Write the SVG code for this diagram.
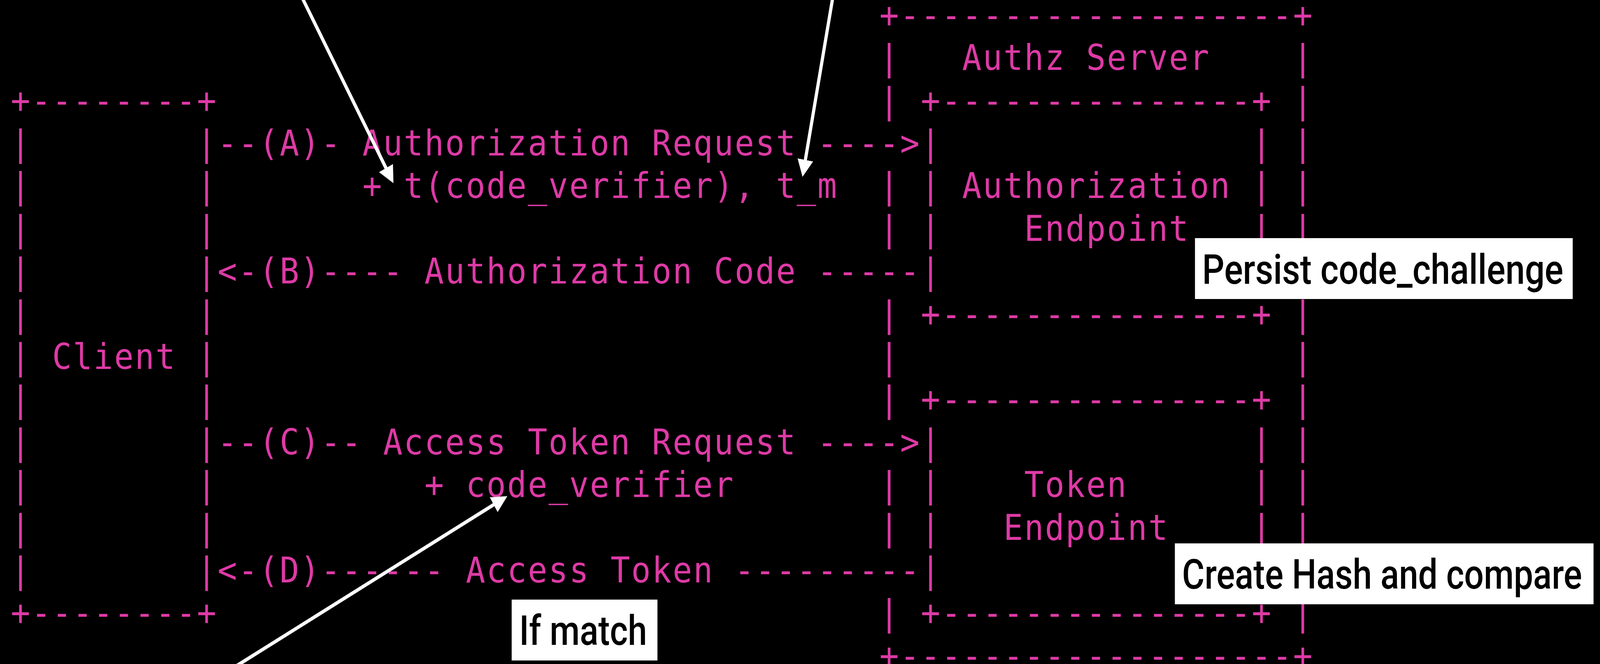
<svg xmlns="http://www.w3.org/2000/svg" width="4456" height="1701" viewBox="0 0 4456 1701" preserveAspectRatio="none" xml:space="preserve">
<style>
svg { width: 100vw; height: 100vh; background: #000000; }
.a { font-family: "DejaVu Sans Mono", "Liberation Mono", monospace; font-size: 90px; letter-spacing: 3.42px; fill: #DE3AA6; white-space: pre; }
.n { font-family: Roboto, "Liberation Sans", Arial, sans-serif; font-weight: 500; font-size: 106px; fill: #000000; }
.nb { fill: #ffffff; }
.ar { stroke: #ffffff; stroke-width: 9; fill: none; marker-end: url(#ah); }
</style>
<defs>
<marker id="ah" markerUnits="userSpaceOnUse" markerWidth="44" markerHeight="44" viewBox="0 0 44 44" refX="24" refY="22" orient="auto"><path d="M0,0 L44,22 L0,44 z" fill="#ffffff"/></marker>
</defs>
<rect x="0" y="0" width="4456" height="1701" fill="#000000"/>

<g id="client">
<text class="a" x="30" y="288.6">+--------+</text>
<text class="a" x="30" y="398.0">|        |</text>
<text class="a" x="30" y="507.4">|        |</text>
<text class="a" x="30" y="616.8">|        |</text>
<text class="a" x="30" y="726.2">|        |</text>
<text class="a" x="30" y="835.6">|        |</text>
<text class="a" x="30" y="945.0">| Client |</text>
<text class="a" x="30" y="1054.4">|        |</text>
<text class="a" x="30" y="1163.8">|        |</text>
<text class="a" x="30" y="1273.2">|        |</text>
<text class="a" x="30" y="1382.6">|        |</text>
<text class="a" x="30" y="1492.0">|        |</text>
<text class="a" x="30" y="1601.4">+--------+</text>
</g>

<g id="authz-server">
<text class="a" x="2449.2" y="69.8">+-------------------+</text>
<text class="a" x="2449.2" y="179.2">|   Authz Server    |</text>
<text class="a" x="2449.2" y="288.6">|</text>
<text class="a" x="2449.2" y="507.4">|</text>
<text class="a" x="2449.2" y="616.8">|</text>
<text class="a" x="2449.2" y="835.6">|</text>
<text class="a" x="2449.2" y="945.0">|</text>
<text class="a" x="2449.2" y="1054.4">|</text>
<text class="a" x="2449.2" y="1273.2">|</text>
<text class="a" x="2449.2" y="1382.6">|</text>
<text class="a" x="2449.2" y="1601.4">|</text>
<text class="a" x="3601.2" y="288.6">|</text>
<text class="a" x="3601.2" y="398.0">|</text>
<text class="a" x="3601.2" y="507.4">|</text>
<text class="a" x="3601.2" y="616.8">|</text>
<text class="a" x="3601.2" y="835.6">|</text>
<text class="a" x="3601.2" y="945.0">|</text>
<text class="a" x="3601.2" y="1054.4">|</text>
<text class="a" x="3601.2" y="1163.8">|</text>
<text class="a" x="3601.2" y="1273.2">|</text>
<text class="a" x="3601.2" y="1382.6">|</text>
<text class="a" x="3601.2" y="1601.4">|</text>
<text class="a" x="2449.2" y="1710.8">+-------------------+</text>
</g>

<g id="authorization-endpoint">
<text class="a" x="2564.4" y="288.6">+---------------+</text>
<text class="a" x="2564.4" y="398.0">|               |</text>
<text class="a" x="2564.4" y="507.4">| Authorization |</text>
<text class="a" x="2564.4" y="616.8">|    Endpoint   |</text>
<text class="a" x="2564.4" y="726.2">|</text>
<text class="a" x="2564.4" y="835.6">+---------------+</text>
</g>

<g id="token-endpoint">
<text class="a" x="2564.4" y="1054.4">+---------------+</text>
<text class="a" x="2564.4" y="1163.8">|               |</text>
<text class="a" x="2564.4" y="1273.2">|    Token      |</text>
<text class="a" x="2564.4" y="1382.6">|   Endpoint    |</text>
<text class="a" x="2564.4" y="1492.0">|</text>
<text class="a" x="2564.4" y="1601.4">+---------------+</text>
</g>

<g id="connectors">
<text class="a" x="606" y="398.0">--(A)- Authorization Request ----&gt;</text>
<text class="a" x="1009.2" y="507.4">+ t(code_verifier), t_m</text>
<text class="a" x="606" y="726.2">&lt;-(B)---- Authorization Code -----</text>
<text class="a" x="606" y="1163.8">--(C)-- Access Token Request ----&gt;</text>
<text class="a" x="1182" y="1273.2">+ code_verifier</text>
<text class="a" x="606" y="1492.0">&lt;-(D)------ Access Token ---------</text>
<path class="ar" d="M842,-5 L1086.3,451.7"/>
<path class="ar" d="M2319,-5 L2238.6,433.3"/>
<path class="ar" d="M660,1705 L1395.6,1281"/>
</g>

<g id="note-persist">
<rect class="nb" x="3328" y="610" width="1052" height="156"/>
<text class="n" x="3348" y="727" textLength="1006" lengthAdjust="spacingAndGlyphs">Persist code_challenge</text>
</g>

<g id="note-hash">
<rect class="nb" x="3272" y="1392" width="1166" height="156"/>
<text class="n" x="3292" y="1508" textLength="1114" lengthAdjust="spacingAndGlyphs">Create Hash and compare</text>
</g>

<g id="note-match">
<rect class="nb" x="1425" y="1536" width="406" height="156"/>
<text class="n" x="1446" y="1652" textLength="356" lengthAdjust="spacingAndGlyphs">If match</text>
</g>
</svg>
